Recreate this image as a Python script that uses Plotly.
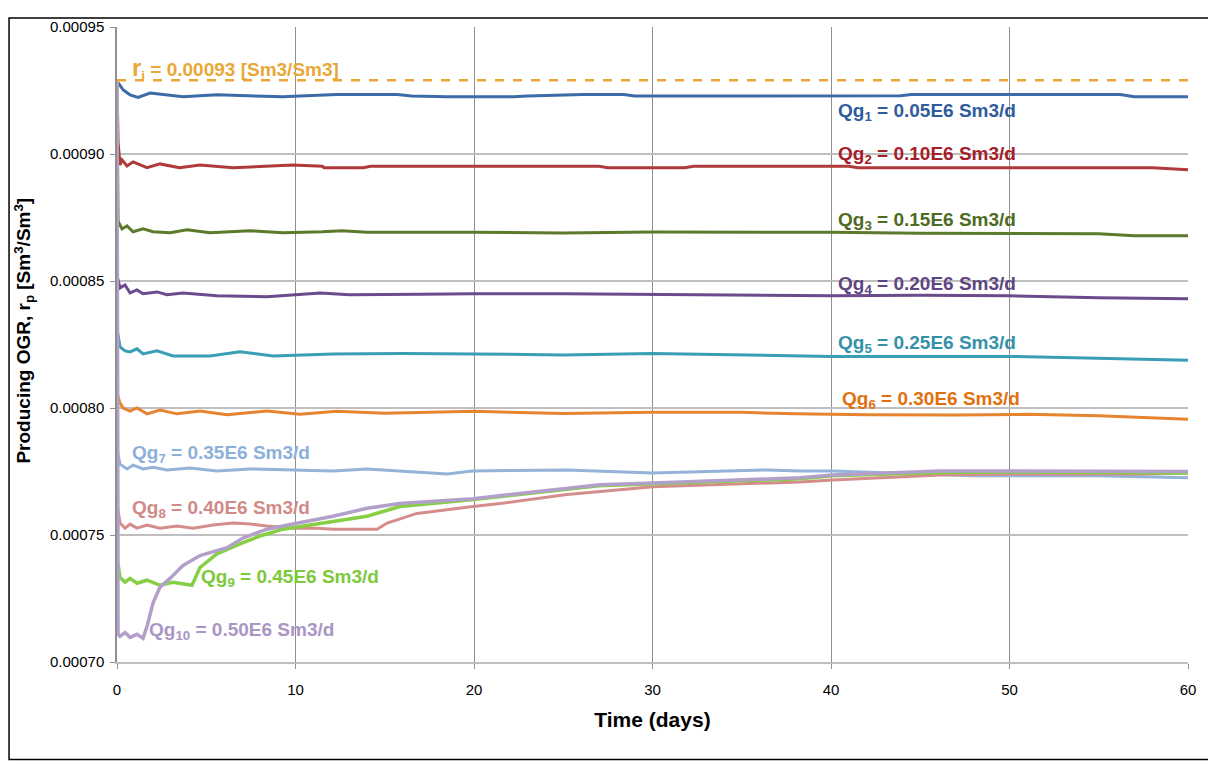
import plotly.graph_objects as go

# ---------------- data ----------------
ri = 0.000929

t1 = [0, 0.35, 0.73, 1.18, 1.85, 2.41, 3.7, 5.6, 7.45, 9.3, 10.25, 12.3, 15.7, 16.5, 18.5, 22.2, 23.0, 26.1, 28.4, 29.0, 43.9, 44.5, 56.2, 57.0, 60]
v1 = [0.0009287, 0.0009252, 0.0009233, 0.0009223, 0.0009240, 0.0009236, 0.0009225, 0.0009233, 0.0009229, 0.0009225, 0.0009228, 0.0009234, 0.0009234, 0.0009228, 0.0009225, 0.0009225, 0.0009228, 0.0009234, 0.0009234, 0.0009228, 0.0009229, 0.0009234, 0.0009234, 0.0009225, 0.0009225]

t2 = [0, 0.06, 0.17, 0.28, 0.56, 0.9, 1.68, 2.41, 3.5, 4.65, 6.5, 9.86, 11.5, 11.6, 13.8, 14.2, 27.0, 27.5, 31.8, 32.3, 41.0, 41.5, 58.0, 59.5, 60]
v2 = [0.0009287, 0.0009047, 0.0008957, 0.0008977, 0.0008953, 0.0008969, 0.0008946, 0.0008961, 0.0008946, 0.0008957, 0.0008946, 0.0008957, 0.0008952, 0.0008946, 0.0008946, 0.0008952, 0.0008952, 0.0008946, 0.0008946, 0.0008952, 0.0008952, 0.0008946, 0.0008946, 0.0008940, 0.0008938]

t3 = [0, 0.06, 0.28, 0.56, 0.9, 1.46, 2.02, 2.97, 3.92, 5.21, 7.45, 9.3, 11.5, 12.6, 14.0, 20.0, 25.0, 30.0, 40.0, 45.0, 55.0, 57.0, 60]
v3 = [0.0009287, 0.0008736, 0.0008705, 0.0008717, 0.0008694, 0.0008705, 0.0008694, 0.0008690, 0.0008702, 0.0008690, 0.0008698, 0.0008690, 0.0008694, 0.0008698, 0.0008692, 0.0008692, 0.0008689, 0.0008693, 0.0008692, 0.0008688, 0.0008686, 0.0008678, 0.0008678]

t4 = [0, 0.03, 0.17, 0.45, 0.73, 1.12, 1.46, 2.24, 2.8, 3.7, 5.6, 8.4, 11.4, 13.0, 17.0, 20.0, 25.0, 30.0, 35.0, 40.0, 45.0, 50.0, 55.0, 60]
v4 = [0.0009287, 0.0008512, 0.0008473, 0.0008484, 0.0008453, 0.0008465, 0.0008450, 0.0008457, 0.0008446, 0.0008453, 0.0008442, 0.0008438, 0.0008453, 0.0008446, 0.0008448, 0.0008450, 0.0008450, 0.0008448, 0.0008444, 0.0008442, 0.0008444, 0.0008442, 0.0008434, 0.0008430]

t5 = [0, 0.03, 0.17, 0.45, 0.73, 1.12, 1.46, 2.24, 3.14, 5.21, 6.89, 8.74, 12.1, 16.0, 20.0, 25.0, 30.0, 35.0, 40.0, 45.0, 50.0, 53.0, 57.0, 60]
v5 = [0.0009287, 0.0008298, 0.0008240, 0.0008225, 0.0008221, 0.0008233, 0.0008213, 0.0008225, 0.0008205, 0.0008205, 0.0008221, 0.0008205, 0.0008213, 0.0008215, 0.0008213, 0.0008209, 0.0008215, 0.0008209, 0.0008203, 0.0008203, 0.0008203, 0.0008199, 0.0008193, 0.0008188]

t6 = [0, 0.03, 0.17, 0.34, 0.73, 1.12, 1.68, 2.41, 3.36, 4.65, 6.16, 8.4, 10.25, 12.3, 15.0, 20.0, 25.0, 30.0, 35.0, 38.0, 42.0, 47.0, 51.0, 55.0, 60]
v6 = [0.0009287, 0.0008050, 0.0008019, 0.0008000, 0.0007988, 0.0008000, 0.0007977, 0.0007992, 0.0007977, 0.0007988, 0.0007973, 0.0007988, 0.0007975, 0.0007987, 0.0007979, 0.0007987, 0.0007978, 0.0007983, 0.0007983, 0.0007977, 0.0007973, 0.0007972, 0.0007975, 0.0007969, 0.0007956]

t7 = [0, 0.03, 0.17, 0.56, 0.9, 1.46, 2.02, 2.8, 4.09, 5.6, 7.45, 9.86, 12.1, 14.0, 18.5, 19.9, 25.2, 30.0, 36.4, 38.3, 40.1, 47.96, 54.9, 60]
v7 = [0.0009287, 0.0007826, 0.0007779, 0.0007760, 0.0007775, 0.0007760, 0.0007767, 0.0007756, 0.0007764, 0.0007752, 0.0007760, 0.0007756, 0.0007752, 0.0007760, 0.0007740, 0.0007752, 0.0007756, 0.0007744, 0.0007756, 0.0007752, 0.0007752, 0.0007733, 0.0007733, 0.0007725]

t8 = [0, 0.03, 0.17, 0.45, 0.73, 1.12, 1.68, 2.41, 3.36, 4.26, 5.38, 6.5, 7.5, 8.4, 9.86, 11.2, 12.1, 14.57, 15.13, 16.8, 19.94, 21.46, 25.21, 30.03, 38.26, 40.11, 46.11, 50.2, 57.7, 60]
v8 = [0.0009287, 0.0007605, 0.0007547, 0.0007527, 0.0007543, 0.0007527, 0.0007539, 0.0007527, 0.0007535, 0.0007527, 0.0007539, 0.0007547, 0.0007543, 0.0007535, 0.0007527, 0.0007527, 0.0007523, 0.0007523, 0.0007547, 0.0007585, 0.0007612, 0.0007624, 0.0007659, 0.0007690, 0.0007709, 0.0007717, 0.0007736, 0.0007740, 0.0007740, 0.0007744]

t9 = [0, 0.03, 0.17, 0.45, 0.73, 1.12, 1.68, 2.41, 3.14, 3.92, 4.2, 4.65, 5.6, 6.89, 8.01, 9.3, 11.2, 14.0, 15.85, 20.0, 27.0, 30.0, 38.3, 40.1, 46.1, 50.2, 60]
v9 = [0.0009287, 0.0007399, 0.0007333, 0.0007314, 0.0007329, 0.0007310, 0.0007322, 0.0007302, 0.0007314, 0.0007306, 0.0007302, 0.0007372, 0.0007426, 0.0007465, 0.0007496, 0.0007523, 0.0007543, 0.0007574, 0.0007612, 0.0007640, 0.0007694, 0.0007702, 0.0007721, 0.0007733, 0.0007746, 0.0007748, 0.0007744]

t10 = [0, 0.06, 0.17, 0.45, 0.73, 1.12, 1.46, 1.7, 2.02, 2.41, 2.97, 3.7, 4.65, 6.16, 7.06, 8.4, 9.86, 12.1, 14.0, 15.85, 19.94, 27.06, 30.03, 38.26, 40.11, 46.11, 50.2, 60]
v10 = [0.0009287, 0.0007110, 0.0007101, 0.0007116, 0.0007097, 0.0007109, 0.0007093, 0.0007145, 0.0007233, 0.0007295, 0.0007329, 0.0007380, 0.0007419, 0.0007450, 0.0007488, 0.0007523, 0.0007543, 0.0007574, 0.0007605, 0.0007624, 0.0007643, 0.0007698, 0.0007705, 0.0007725, 0.0007736, 0.0007752, 0.0007752, 0.0007750]

series_names = ["Qg1", "Qg2", "Qg3", "Qg4", "Qg5", "Qg6", "Qg7", "Qg8", "Qg9", "Qg10"]
series_t = [t1, t2, t3, t4, t5, t6, t7, t8, t9, t10]
series_v = [v1, v2, v3, v4, v5, v6, v7, v8, v9, v10]
rates = ["0.05E6", "0.10E6", "0.15E6", "0.20E6", "0.25E6", "0.30E6", "0.35E6", "0.40E6", "0.45E6", "0.50E6"]
label_x = [40.3, 40.3, 40.3, 40.3, 40.3, 40.5, 0.7, 0.7, 4.6, 1.7]
label_y = [0.0009167, 0.0008996, 0.0008736, 0.0008484, 0.0008252, 0.0008031, 0.0007818, 0.0007601, 0.0007329, 0.0007124]

y_ticks = [0.00070, 0.00075, 0.00080, 0.00085, 0.00090, 0.00095]
x_ticks = [0, 10, 20, 30, 40, 50, 60]

# ---------------- style ----------------
line_colors = ["#3D6BA8", "#B03A3A", "#5B7A2C", "#6A4B8C", "#3A9EB6",
               "#E6842F", "#93B3D9", "#D58D8B", "#86CF45", "#B2A0CB"]
text_colors = ["#2F5C9C", "#A3202A", "#4F6B22", "#5E4683", "#3491A8",
               "#E2700F", "#8DB0DA", "#D08A88", "#7CC93A", "#A996C4"]
widths = [3, 3, 3, 3, 3, 3, 3, 3, 3.5, 3.5]
FONT = "Liberation Sans, Arial, sans-serif"

fig = go.Figure()

for name, tt, vv, c, w in zip(series_names, series_t, series_v, line_colors, widths):
    fig.add_trace(go.Scatter(x=tt, y=vv, mode="lines", name=name,
                             line=dict(color=c, width=w), showlegend=False))

# initial OGR dashed line
fig.add_trace(go.Scatter(x=[0, 60], y=[ri, ri], mode="lines", name="ri",
                         line=dict(color="#E8A838", width=2.5, dash="dash"),
                         showlegend=False))

annotations = []
for i, (rt, lx, ly, tc) in enumerate(zip(rates, label_x, label_y, text_colors)):
    annotations.append(dict(
        x=lx, y=ly, xref="x", yref="y", xanchor="left", yanchor="middle",
        showarrow=False,
        text=f"<b>Qg<sub>{i+1}</sub> = {rt} Sm3/d</b>",
        font=dict(family=FONT, size=19, color=tc)))

annotations.append(dict(
    x=0.7, y=0.0009337, xref="x", yref="y", xanchor="left", yanchor="middle",
    showarrow=False,
    text="<b><span style='font-size:24px'>r</span><sub>i</sub> = 0.00093 [Sm3/Sm3]</b>",
    font=dict(family=FONT, size=19, color="#E8A838")))

# y-axis title (placed as rotated text to match the reference position)
annotations.append(dict(
    x=-0.0868, y=0.522, xref="paper", yref="paper", xanchor="center", yanchor="middle",
    showarrow=False, textangle=-90,
    text="<b>Producing OGR, r<sub>p</sub> [Sm<sup>3</sup>/Sm<sup>3</sup>]</b>",
    font=dict(family=FONT, size=19, color="black")))

fig.update_layout(
    width=1206, height=756,
    margin=dict(l=109, r=26, t=10, b=102),
    paper_bgcolor="white", plot_bgcolor="white",
    font=dict(family=FONT, size=15, color="black"),
    annotations=annotations,
    shapes=[dict(type="rect", xref="paper", yref="paper",
                 x0=-0.1008, x1=1.0215, y0=-0.1537, y1=1.014,
                 line=dict(color="black", width=1.5), fillcolor="rgba(0,0,0,0)",
                 layer="below")],
)

fig.update_xaxes(
    range=[0, 60], tickvals=x_ticks, ticktext=[str(v) for v in x_ticks],
    showgrid=True, gridcolor="#8F8F8F", gridwidth=1,
    showline=True, linecolor="#BFBFBF", linewidth=1.5,
    ticks="outside", ticklen=5, tickcolor="#8F8F8F",
    ticklabelstandoff=8,
    tickfont=dict(family=FONT, size=15, color="black"),
    zeroline=False,
    title=dict(text="<b>Time (days)</b>", font=dict(family=FONT, size=21, color="black"), standoff=16),
)
fig.update_yaxes(
    range=[0.00070, 0.00095], tickvals=y_ticks, ticktext=[f"{v:.5f}" for v in y_ticks],
    showgrid=True, gridcolor="#BFBFBF", gridwidth=1.5,
    showline=True, linecolor="#8F8F8F", linewidth=1.5,
    ticks="outside", ticklen=5, tickcolor="#8F8F8F",
    ticklabelstandoff=3,
    tickfont=dict(family=FONT, size=15, color="black"),
    zeroline=False,
)

fig.write_html("out.html")
